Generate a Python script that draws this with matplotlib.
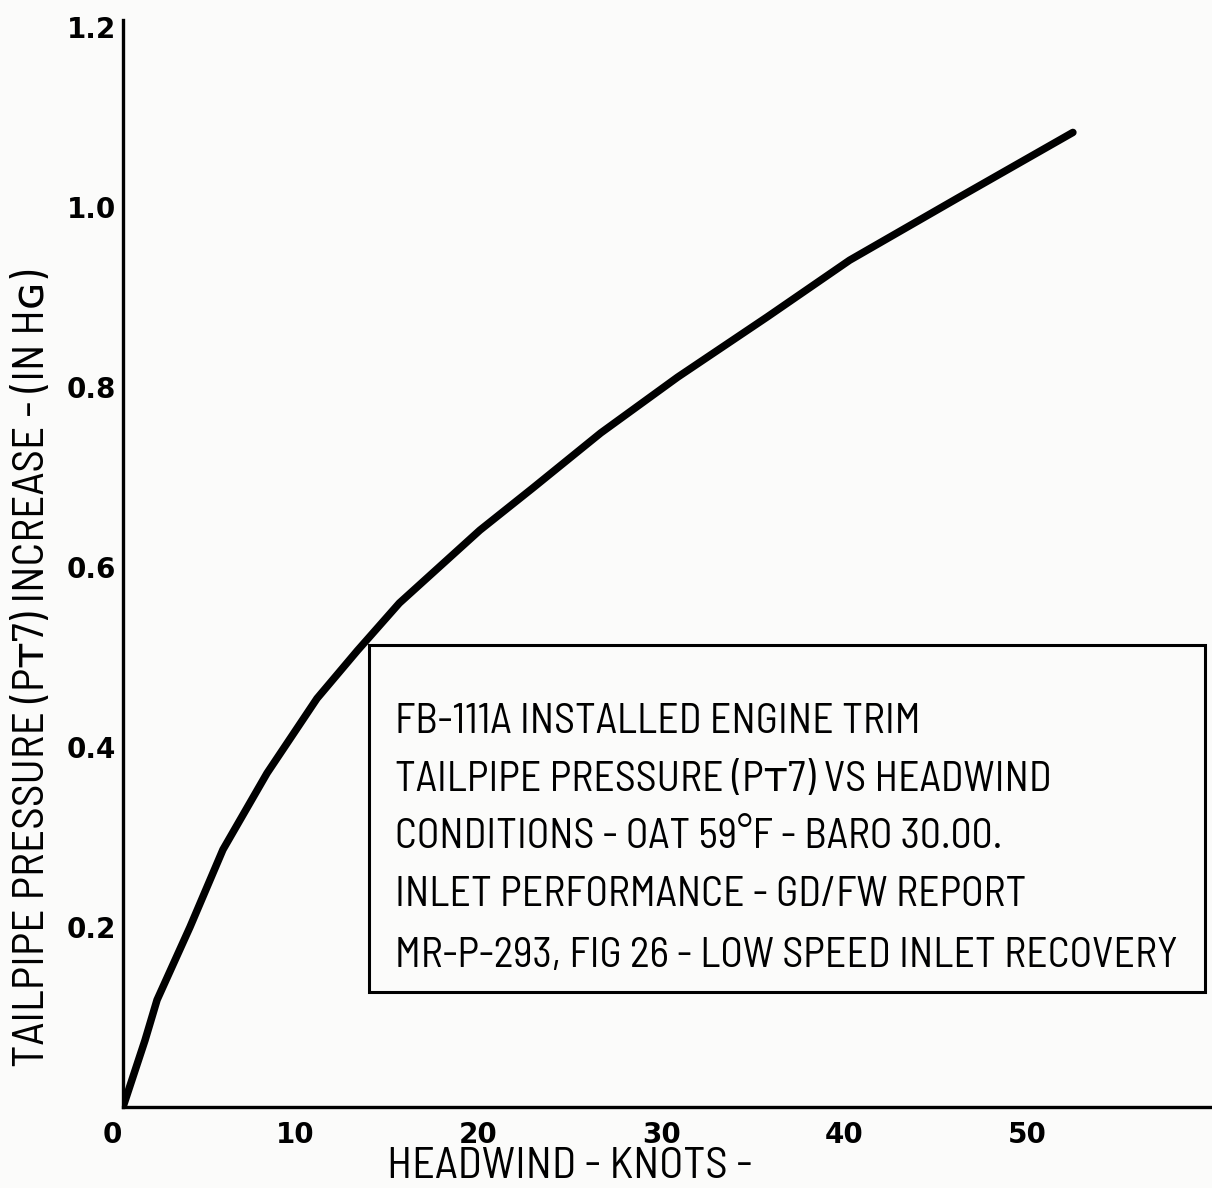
import numpy as np
import matplotlib.pyplot as plt
from matplotlib.patches import Rectangle
from matplotlib.transforms import ScaledTranslation

# headwind (knots) vs tailpipe pressure increase (in Hg)
headwind = [0, 1.2, 1.86, 3.66, 5.46, 7.87, 10.6, 12.8, 15.1, 19.5, 22.4, 26.1, 30.3, 35.2, 39.7, 45.6, 51.9]
pt7_increase = [0, 0.074, 0.119, 0.2, 0.286, 0.371, 0.454, 0.507, 0.56, 0.641, 0.688, 0.749, 0.811, 0.878, 0.941, 1.01, 1.083]

x_ticks = [0, 10, 20, 30, 40, 50]
y_ticks = [0.2, 0.4, 0.6, 0.8, 1.0, 1.2]

note_lines = [
    "FB-111A INSTALLED ENGINE TRIM",
    "TAILPIPE PRESSURE (P\u1d1b7) VS HEADWIND",
    "CONDITIONS - OAT 59\u00b0F - BARO 30.00.",
    "INLET PERFORMANCE - GD/FW REPORT",
    "MR-P-293, FIG 26 - LOW SPEED INLET RECOVERY",
]

narrow = ['Barlow Semi Condensed', 'Archivo Narrow', 'DejaVu Sans']

fig = plt.figure(figsize=(12.12, 11.88), dpi=100)
fig.patch.set_facecolor('#fbfbfa')
ax = fig.add_axes([0.1015, 0.0682, 0.8985, 0.915])
ax.set_facecolor('none')

ax.plot(headwind, pt7_increase, color='black', lw=5.4,
        solid_capstyle='round', solid_joinstyle='round')

ax.set_xlim(0, 59.5)
ax.set_ylim(0, 1.208)
for s in ['top', 'right']:
    ax.spines[s].set_visible(False)
for s in ['left', 'bottom']:
    ax.spines[s].set_linewidth(2.4)
    ax.spines[s].set_color('black')

ax.set_xticks(x_ticks)
ax.set_xticklabels([str(t) for t in x_ticks], fontsize=20, fontweight='bold')
ax.set_yticks(y_ticks)
ax.set_yticklabels(['%.1f' % t for t in y_ticks], fontsize=20, fontweight='bold')
ax.tick_params(axis='x', length=0, pad=10)
ax.tick_params(axis='y', length=0, pad=5)
for lab in ax.get_xticklabels():
    lab.set_transform(lab.get_transform() + ScaledTranslation(-0.11, 0, fig.dpi_scale_trans))

fig.text(0.47, 0.0175, "HEADWIND - KNOTS -", fontsize=32, family=narrow,
         ha='center', va='center')
fig.text(0.027, 0.437, "TAILPIPE PRESSURE (P\u1d1b7) INCREASE - (IN H\u0262)", fontsize=32.5,
         family=narrow, rotation=90, ha='center', va='center')

fig.add_artist(Rectangle((0.3045, 0.165), 0.6897, 0.2921, transform=fig.transFigure,
                         fill=False, lw=2.2, ec='black'))
line_y = [0.392, 0.343, 0.295, 0.246, 0.195]
for txt, yy in zip(note_lines, line_y):
    fig.text(0.326, yy, txt, fontsize=30, family=narrow, ha='left', va='center')

fig.savefig('out.png', dpi=100, facecolor=fig.get_facecolor())
